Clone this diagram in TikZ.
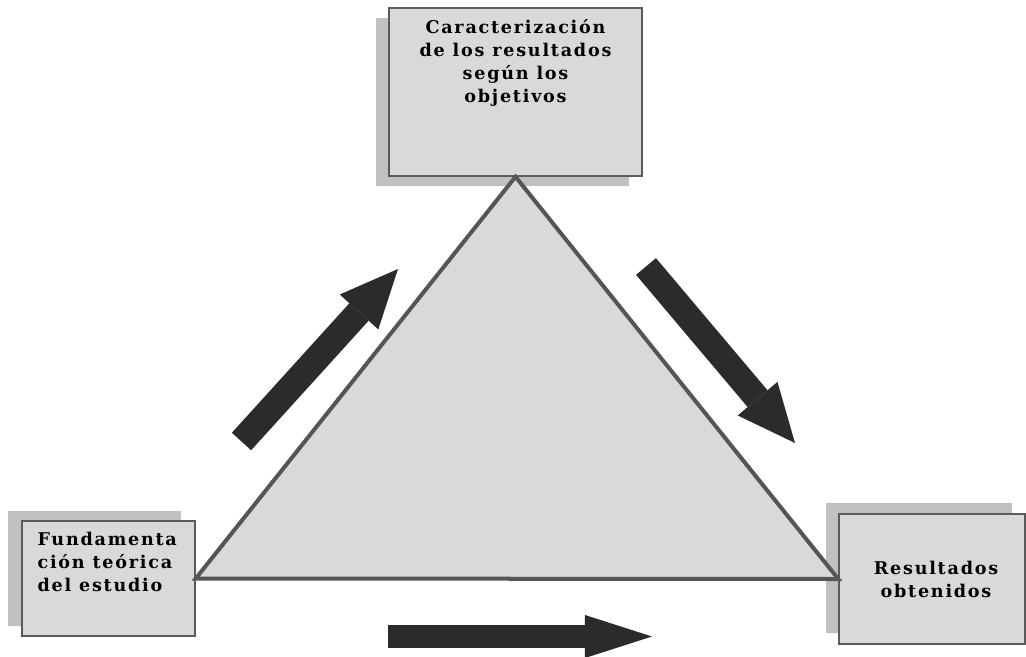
\documentclass[tikz,border=0pt]{standalone}
\usepackage{fontspec}
\newfontfamily\boxfont[LetterSpace=10]{DejaVu Serif}
\usetikzlibrary{arrows.meta,positioning,shadows}
\definecolor{boxgray}{HTML}{D9D9D9}
\definecolor{shadegray}{HTML}{C0C0C0}
\definecolor{edgegray}{HTML}{5A5A5A}
\definecolor{trigray}{HTML}{555555}
\definecolor{arrowgray}{HTML}{2B2B2B}

\begin{document}
\begin{tikzpicture}[x=0.025cm,y=-0.025cm,
    box/.style={draw=edgegray, line width=0.035cm, fill=boxgray, inner sep=0pt},
    boxtext/.style={font=\boxfont\fontsize{12.5}{16.3}\selectfont\bfseries, inner sep=0pt},
    bigarrow/.style={line width=0.65cm, arrowgray, line cap=butt,
      -{Triangle[length=1.45cm, width=1.3cm, line width=0pt]}}]
  \useasboundingbox (0,0) rectangle (1026,657);

  % the three boxes
  \node (obj) [box, minimum width=6.325cm, minimum height=4.2cm,
    general shadow={fill=shadegray, shadow xshift=-0.325cm, shadow yshift=-0.25cm}]
    at (515.5,92) {};
  \node (fund) [box, minimum width=4.325cm, minimum height=2.875cm,
    general shadow={fill=shadegray, shadow xshift=-0.35cm, shadow yshift=0.25cm}]
    at (108.5,578.5) {};
  \node (res) [box, minimum width=4.65cm, minimum height=3.25cm,
    general shadow={fill=shadegray, shadow xshift=-0.325cm, shadow yshift=0.275cm}]
    at (932,579) {};

  \node (objtxt) [boxtext, align=center, below=0.3cm of obj.north]
    {Caracterización\\de los resultados\\según los\\objetivos};
  \node (fundtxt) [boxtext, align=left, below right=0.3cm and 0.4cm of fund.north west]
    {Fundamenta\\ción teórica\\del estudio};
  \node (restxt) [boxtext, align=center, below=1.2cm of res.north, xshift=0.1cm]
    {Resultados\\obtenidos};

  % triangle
  \draw[trigray, line width=0.1cm, fill=boxgray]
    (obj.south) -- (res.west) -- (fund.east) -- cycle;

  % block arrows
  \coordinate (upA) at (241.5,441.5);
  \coordinate (upB) at (398,269);
  \coordinate (dnA) at (646,266.5);
  \coordinate (dnB) at (795,443);
  \coordinate (btA) at (388,636.5);
  \coordinate (btB) at (652,636.5);
  \draw[bigarrow] (upA) -- (upB);
  \draw[bigarrow] (dnA) -- (dnB);
  \draw[bigarrow, line width=0.575cm,
    -{Triangle[length=1.675cm, width=1.075cm, line width=0pt]}] (btA) -- (btB);
\end{tikzpicture}
\end{document}
